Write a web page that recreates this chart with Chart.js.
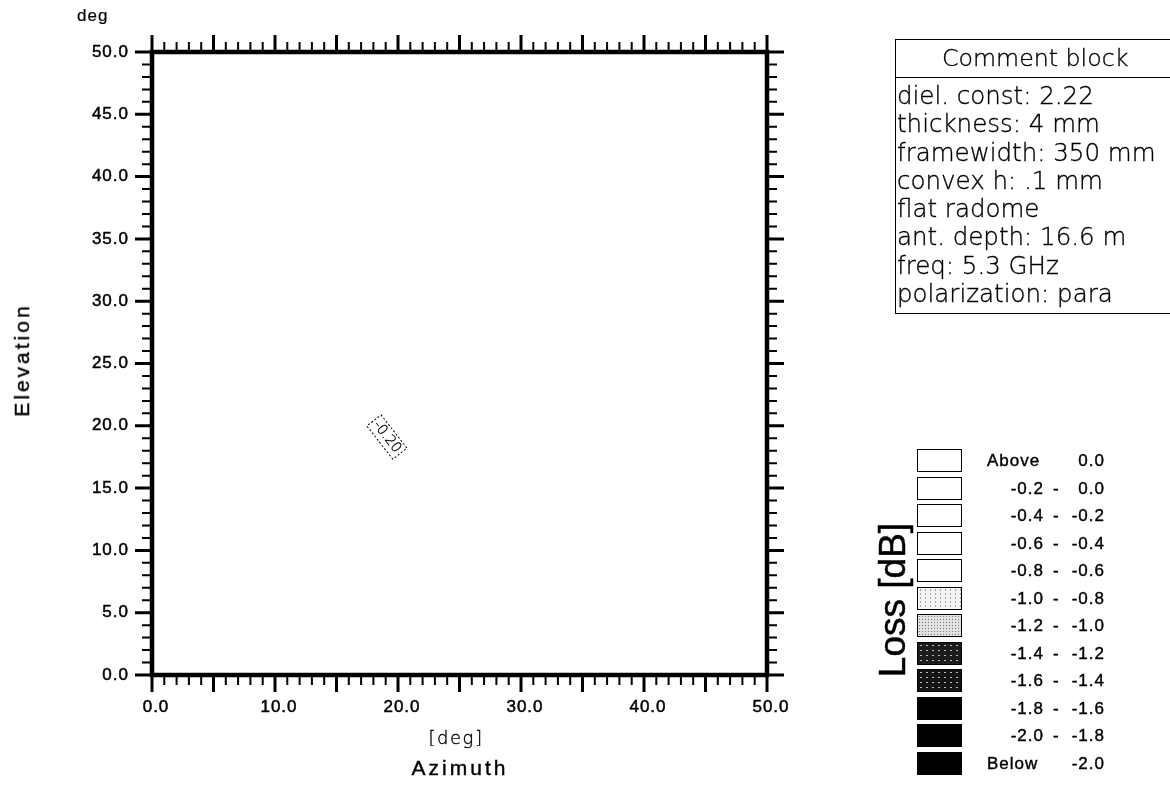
<!DOCTYPE html>
<html>
<head>
<meta charset="utf-8">
<script src="https://cdn.jsdelivr.net/npm/chart.js@4.4.1/dist/chart.umd.min.js"></script>
<style>
  html, body { margin:0; padding:0; background:#fff; overflow:hidden; }
  body { width:1170px; height:785px; position:relative; font-family:"Liberation Sans", Arial, sans-serif; color:#000; }
  #c { position:absolute; left:0; top:0; }
  .abs { position:absolute; white-space:nowrap; }
  .round { font-family:"DejaVu Sans", sans-serif; font-weight:200; color:#000; -webkit-text-stroke:0.35px #000; }
  #comment { position:absolute; left:895px; top:39px; width:300px; height:275px; border:1.5px solid #000; box-sizing:border-box; }
  #comment .hd { height:37px; border-bottom:1.5px solid #000; padding-left:46px; line-height:37px; font-size:23.7px; }
  #comment .body { padding-top:4px; }
  #comment .ln { font-size:24.5px; line-height:28.3px; padding-left:1px; }
  .lgbox { position:absolute; left:917px; width:45px; height:23px; border:1.3px solid #000; box-sizing:border-box; }
  .lgt { position:absolute; font-size:17px; letter-spacing:1px; line-height:23px; -webkit-text-stroke:0.4px #000; }
  .axt { font-size:21px; letter-spacing:3px; -webkit-text-stroke:0.4px #000; }
</style>
</head>
<body>
<canvas id="c" width="1170" height="785"></canvas>
<div class="abs" style="left:77px; top:6px; font-size:17px; letter-spacing:1px; -webkit-text-stroke:0.2px #000;">deg</div>
<div class="abs round" style="left:456px; top:737px; font-size:18px; letter-spacing:1.5px; transform:translate(-50%,-50%);">[deg]</div>
<div class="abs axt" style="left:460px; top:768px; transform:translate(-50%,-50%);">Azimuth</div>
<div class="abs axt" style="left:22px; top:360px; transform:translate(-50%,-50%) rotate(-90deg);">Elevation</div>
<div id="comment"></div>
<div id="legend"></div>
<div class="abs" style="left:893px; top:600px; font-size:37px; -webkit-text-stroke:0.5px #000; transform:translate(-50%,-50%) rotate(-90deg);">Loss [dB]</div>
<script>
// ---- data ----
const xRange = [0, 50];
const yRange = [0, 50];
const xLabelStep = 10;
const yLabelStep = 5;
const minorStep = 1;
const majorStep = 5;
const contourLabels = [{ x: 19.1, y: 19.1, text: '-0.20' }];
const commentTitle = 'Comment block';
const commentLines = [
  'diel. const: 2.22',
  'thickness: 4 mm',
  'framewidth: 350 mm',
  'convex h: .1 mm',
  'flat radome',
  'ant. depth: 16.6 m',
  'freq: 5.3 GHz',
  'polarization: para'
];
const legendLow  = ['Above', '-0.2', '-0.4', '-0.6', '-0.8', '-1.0', '-1.2', '-1.4', '-1.6', '-1.8', '-2.0', 'Below'];
const legendHigh = ['0.0', '0.0', '-0.2', '-0.4', '-0.6', '-0.8', '-1.0', '-1.2', '-1.4', '-1.6', '-1.8', '-2.0'];
const legendFill = ['#ffffff', '#ffffff', '#ffffff', '#ffffff', '#ffffff', '#f4f4f4', '#e2e2e2', '#1c1c1c', '#141414', '#000000', '#000000', '#000000'];
const legendDots = [0, 0, 0, 0, 0, 1, 2, 3, 3, 0, 0, 0];

// ---- comment block ----
const cb = document.getElementById('comment');
const hd = document.createElement('div'); hd.className = 'hd round'; hd.textContent = commentTitle; cb.appendChild(hd);
const bd = document.createElement('div'); bd.className = 'body'; cb.appendChild(bd);
commentLines.forEach(t => { const d = document.createElement('div'); d.className = 'ln round'; d.textContent = t; bd.appendChild(d); });

// ---- legend ----
const lg = document.getElementById('legend');
legendLow.forEach((lo, i) => {
  const top = 449 + i * 27.5;
  const b = document.createElement('div'); b.className = 'lgbox';
  b.style.top = top + 'px';
  b.style.background = legendFill[i];
  if (legendDots[i] === 1) { b.style.backgroundImage = 'radial-gradient(#999 0.6px, transparent 0.8px)'; b.style.backgroundSize = '5px 4px'; }
  if (legendDots[i] === 2) { b.style.backgroundImage = 'radial-gradient(#777 0.7px, transparent 0.9px)'; b.style.backgroundSize = '3px 3px'; }
  if (legendDots[i] === 3) { b.style.backgroundImage = 'radial-gradient(#bbb 0.5px, transparent 0.8px)'; b.style.backgroundSize = '6px 5px'; }
  lg.appendChild(b);
  const special = (lo === 'Above' || lo === 'Below');
  const t1 = document.createElement('div'); t1.className = 'lgt'; t1.textContent = lo;
  t1.style.top = top + 'px';
  if (special) { t1.style.left = '987px'; } else { t1.style.right = (1170 - 1044) + 'px'; }
  lg.appendChild(t1);
  if (!special) {
    const dsh = document.createElement('div'); dsh.className = 'lgt'; dsh.textContent = '-';
    dsh.style.top = top + 'px'; dsh.style.left = '1053px'; lg.appendChild(dsh);
  }
  const t2 = document.createElement('div'); t2.className = 'lgt'; t2.textContent = legendHigh[i];
  t2.style.top = top + 'px'; t2.style.right = (1170 - 1105) + 'px';
  lg.appendChild(t2);
});

// ---- plugins ----
const spacingPlugin = {
  id: 'spacing',
  beforeLayout(chart) { chart.ctx.letterSpacing = '1px'; },
  beforeDraw(chart) { chart.ctx.letterSpacing = '1px'; }
};

const framePlugin = {
  id: 'frame',
  afterDatasetsDraw(chart) {
    const { ctx, chartArea: a, scales: { x, y } } = chart;
    ctx.save();
    ctx.strokeStyle = '#000';
    ctx.lineCap = 'butt';
    const minorLen = 10, majorLen = 17;
    for (let v = xRange[0]; v <= xRange[1] + 1e-9; v += minorStep) {
      const px = x.getPixelForValue(v);
      const major = Math.abs(v / majorStep - Math.round(v / majorStep)) < 1e-6;
      const len = major ? majorLen : minorLen;
      ctx.lineWidth = major ? 3 : 2;
      ctx.beginPath();
      ctx.moveTo(px, a.bottom); ctx.lineTo(px, a.bottom + len);
      ctx.moveTo(px, a.top); ctx.lineTo(px, a.top - len);
      ctx.stroke();
    }
    for (let v = yRange[0]; v <= yRange[1] + 1e-9; v += minorStep) {
      const py = y.getPixelForValue(v);
      const major = Math.abs(v / majorStep - Math.round(v / majorStep)) < 1e-6;
      const len = major ? majorLen : minorLen;
      ctx.lineWidth = major ? 3 : 2;
      ctx.beginPath();
      ctx.moveTo(a.left, py); ctx.lineTo(a.left - len, py);
      ctx.moveTo(a.right, py); ctx.lineTo(a.right + len, py);
      ctx.stroke();
    }
    ctx.lineWidth = 4.5;
    ctx.lineCap = 'square';
    ctx.strokeRect(a.left, a.top, a.right - a.left, a.bottom - a.top);
    ctx.restore();
  }
};

const contourPlugin = {
  id: 'contourLabels',
  afterDatasetsDraw(chart) {
    const { ctx, scales: { x, y } } = chart;
    ctx.save();
    ctx.letterSpacing = '0px';
    contourLabels.forEach(c => {
      const px = x.getPixelForValue(c.x), py = y.getPixelForValue(c.y);
      ctx.translate(px, py);
      ctx.rotate(52 * Math.PI / 180);
      ctx.font = '200 14px "DejaVu Sans", sans-serif';
      ctx.fillStyle = '#000';
      ctx.textAlign = 'center';
      ctx.textBaseline = 'middle';
      ctx.fillText(c.text, 0, 0);
      ctx.lineWidth = 0.3;
      ctx.strokeStyle = '#000';
      ctx.strokeText(c.text, 0, 0);
      const w = ctx.measureText(c.text).width + 6;
      ctx.setLineDash([2, 2]);
      ctx.lineWidth = 1;
      ctx.strokeRect(-w / 2, -9, w, 18);
    });
    ctx.restore();
  }
};

const tickFont = { family: '"Liberation Sans", Arial, sans-serif', size: 17 };
const ctxEl = document.getElementById('c').getContext('2d');

new Chart(ctxEl, {
  type: 'scatter',
  data: { datasets: [{ data: contourLabels.map(c => ({ x: c.x, y: c.y })), pointRadius: 0, showLine: false }] },
  options: {
    responsive: false,
    animation: false,
    events: [],
    layout: { padding: { left: 0, top: 52, right: 403, bottom: 0 } },
    plugins: { legend: { display: false }, tooltip: { enabled: false } },
    scales: {
      x: {
        type: 'linear', min: xRange[0], max: xRange[1],
        grid: { display: false, drawTicks: false },
        border: { display: false },
        ticks: { stepSize: xLabelStep, color: '#000', font: tickFont, padding: 22, maxRotation: 0, labelOffset: 4,
                 textStrokeColor: '#000', textStrokeWidth: 0.5,
                 callback: v => Number(v).toFixed(1) },
        title: { display: false },
        afterFit: s => { s.height = 110; }
      },
      y: {
        type: 'linear', min: yRange[0], max: yRange[1],
        grid: { display: false, drawTicks: false },
        border: { display: false },
        ticks: { stepSize: yLabelStep, color: '#000', font: tickFont, padding: 23,
                 textStrokeColor: '#000', textStrokeWidth: 0.5,
                 callback: v => Number(v).toFixed(1) },
        title: { display: false },
        afterFit: s => { s.width = 152; }
      }
    }
  },
  plugins: [spacingPlugin, framePlugin, contourPlugin]
});
</script>
</body>
</html>
